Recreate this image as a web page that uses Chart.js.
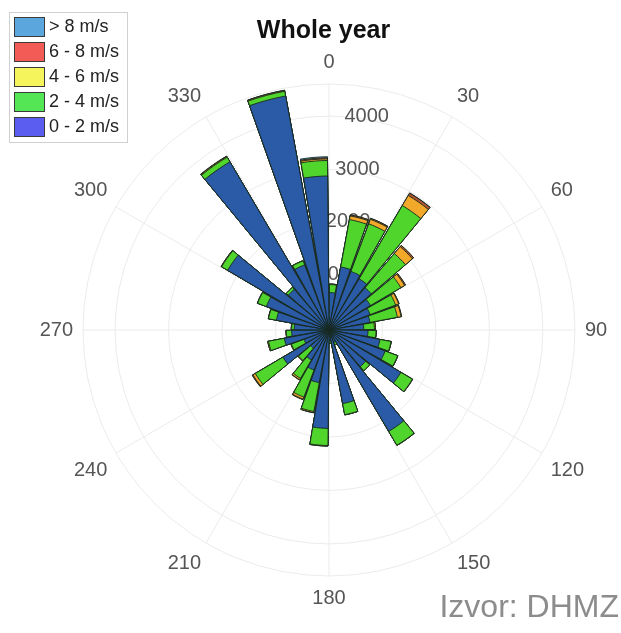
<!DOCTYPE html>
<html>
<head>
<meta charset="utf-8">
<title>Whole year</title>
<script src="https://cdn.jsdelivr.net/npm/chart.js@4.4.1/dist/chart.umd.min.js"></script>
<style>
  html, body { margin: 0; padding: 0; background: #fff; }
  #rose { display: block; }
</style>
</head>
<body>
<canvas id="rose" width="621" height="633"></canvas>
<script>
// sector centres, degrees clockwise from north (10 degree bins)
const directions = [5, 15, 25, 35, 45, 55, 65, 75, 85, 95, 105, 115,
  125, 135, 145, 155, 165, 175, 185, 195, 205, 215, 225, 235,
  245, 255, 265, 275, 285, 295, 305, 315, 325, 335, 345, 355];

// counts per speed class in each sector
const speed0to2 = [700, 1200, 1170, 1110, 1040, 900, 820, 780, 650, 730, 970, 1120,
  1560, 900, 2200, 250, 1400, 200, 1840, 1000, 800, 650, 450, 1000,
  500, 850, 700, 650, 1000, 1250, 2200, 1000, 3650, 1300, 4450, 2880];
const speed2to4 = [150, 900, 950, 1590, 840, 660, 510, 520, 200, 150, 210, 250,
  250, 100, 300, 50, 210, 50, 320, 550, 540, 400, 300, 600,
  250, 300, 100, 50, 150, 175, 130, 50, 100, 80, 90, 290];
const speed4to6 = [10, 70, 90, 220, 170, 80, 60, 70, 20, 5, 5, 5,
  5, 0, 5, 0, 5, 0, 10, 20, 40, 30, 10, 50,
  10, 15, 5, 5, 5, 5, 10, 0, 15, 5, 15, 30];
const speed6to8 = [0, 20, 20, 50, 30, 20, 10, 10, 0, 0, 0, 0,
  0, 0, 0, 0, 0, 0, 0, 5, 10, 5, 0, 15,
  0, 0, 0, 0, 0, 0, 0, 0, 5, 0, 5, 20];
const speedOver8 = [0, 0, 0, 5, 0, 0, 0, 0, 0, 0, 0, 0,
  0, 0, 0, 0, 0, 0, 0, 0, 0, 0, 0, 0,
  0, 0, 0, 5, 0, 0, 0, 0, 5, 0, 0, 20];

const classNames = ["0 - 2 m/s", "2 - 4 m/s", "4 - 6 m/s", "6 - 8 m/s", "> 8 m/s"];
const radialTicks = [1000, 2000, 3000, 4000];
const radialMax = 4600;
const angleLabels = ["0", "30", "60", "90", "120", "150", "180", "210", "240", "270", "300", "330"];

const barColors = ["#2b5aa6", "#4fd52b", "#f2a92a", "#b4532f", "#62a9de"];
const legendColors = ["#5b5cf0", "#55e655", "#f6f45c", "#f25b56", "#5ca6de"];
const FONT = '"Liberation Sans", Arial, Helvetica, sans-serif';

Chart.defaults.font.family = FONT;

// every sector = half degree gap, 9 deg bar, half degree gap
const labels = [];
directions.forEach((d) => labels.push("", (d - 5) + "-" + (d + 5), ""));

// stack the classes: each dataset holds the running total, smallest drawn on top
const classes = [speed0to2, speed2to4, speed4to6, speed6to8, speedOver8];
const running = directions.map(() => 0);
const datasets = classes.map((vals, c) => {
  vals.forEach((v, i) => { running[i] += v; });
  const data = [];
  running.forEach((v) => data.push(0, v, 0));
  return {
    label: classNames[c],
    data: data,
    backgroundColor: barColors[c],
    borderColor: "rgba(22, 40, 30, 0.9)",
    borderWidth: (ctx) => (ctx.dataIndex % 3 === 1 ? 1 : 0),
    angle: (ctx) => (ctx.dataIndex % 3 === 1 ? 9 : 0.5),
  };
});

// radial tick labels sit a bit off the north line, under the bars
const radialTickLabels = {
  id: "radialTickLabels",
  beforeDatasetsDraw(chart) {
    const scale = chart.scales.r;
    const ctx = chart.ctx;
    const a = (10 * Math.PI) / 180;
    ctx.save();
    ctx.font = "20px " + FONT;
    ctx.fillStyle = "#555";
    ctx.textAlign = "center";
    ctx.textBaseline = "middle";
    radialTicks.forEach((v) => {
      const r = scale.getDistanceFromCenterForValue(v) + 3;
      ctx.fillText(String(v), scale.xCenter + r * Math.sin(a), scale.yCenter - r * Math.cos(a));
    });
    ctx.restore();
  },
};

// boxed legend in the top left corner, fastest class first
const legendBox = {
  id: "legendBox",
  afterDraw(chart) {
    const ctx = chart.ctx;
    ctx.save();
    ctx.fillStyle = "#fff";
    ctx.strokeStyle = "#d0d0d0";
    ctx.lineWidth = 1;
    ctx.fillRect(9.5, 12.5, 118, 130);
    ctx.strokeRect(9.5, 12.5, 118, 130);
    ctx.font = "18px " + FONT;
    ctx.textBaseline = "middle";
    for (let i = 0; i < classNames.length; i++) {
      const c = classNames.length - 1 - i;
      const y = 17 + i * 25;
      ctx.fillStyle = legendColors[c];
      ctx.fillRect(14, y, 31, 20);
      ctx.strokeStyle = "#3a3a3a";
      ctx.strokeRect(14.5, y + 0.5, 30, 19);
      ctx.fillStyle = "#222";
      ctx.fillText(classNames[c], 49, y + 10.5);
    }
    // source note
    ctx.font = "32px " + FONT;
    ctx.fillStyle = "#8c8c8c";
    ctx.textAlign = "right";
    ctx.textBaseline = "alphabetic";
    ctx.fillText("Izvor: DHMZ", 619, 617);
    ctx.restore();
  },
};

new Chart(document.getElementById("rose"), {
  type: "polarArea",
  data: { labels: labels, datasets: datasets },
  options: {
    responsive: false,
    animation: false,
    events: [],
    layout: { padding: { left: 26, right: 0, top: 0, bottom: 23 } },
    plugins: {
      legend: { display: false },
      tooltip: { enabled: false },
      title: {
        display: true,
        text: "Whole year",
        color: "#111",
        font: { size: 25, weight: "bold" },
        padding: { top: 16, bottom: 4 },
      },
    },
    scales: {
      r: {
        min: 0,
        max: radialMax,
        startAngle: 0,
        afterBuildTicks: (scale) => {
          scale.ticks = [0, ...radialTicks, radialMax].map((v) => ({ value: v }));
        },
        ticks: { display: false },
        grid: { color: "#ebebeb", lineWidth: 1, circular: true },
        angleLines: {
          display: true,
          color: "#ebebeb",
          lineWidth: (ctx) => (ctx.index % 9 === 0 ? 1 : 0),
        },
        pointLabels: {
          display: true,
          padding: 10,
          color: "#555",
          font: { size: 20 },
          callback: (label, i) => (i % 9 === 0 ? angleLabels[i / 9] : ""),
        },
      },
    },
  },
  plugins: [radialTickLabels, legendBox],
});
</script>
</body>
</html>
